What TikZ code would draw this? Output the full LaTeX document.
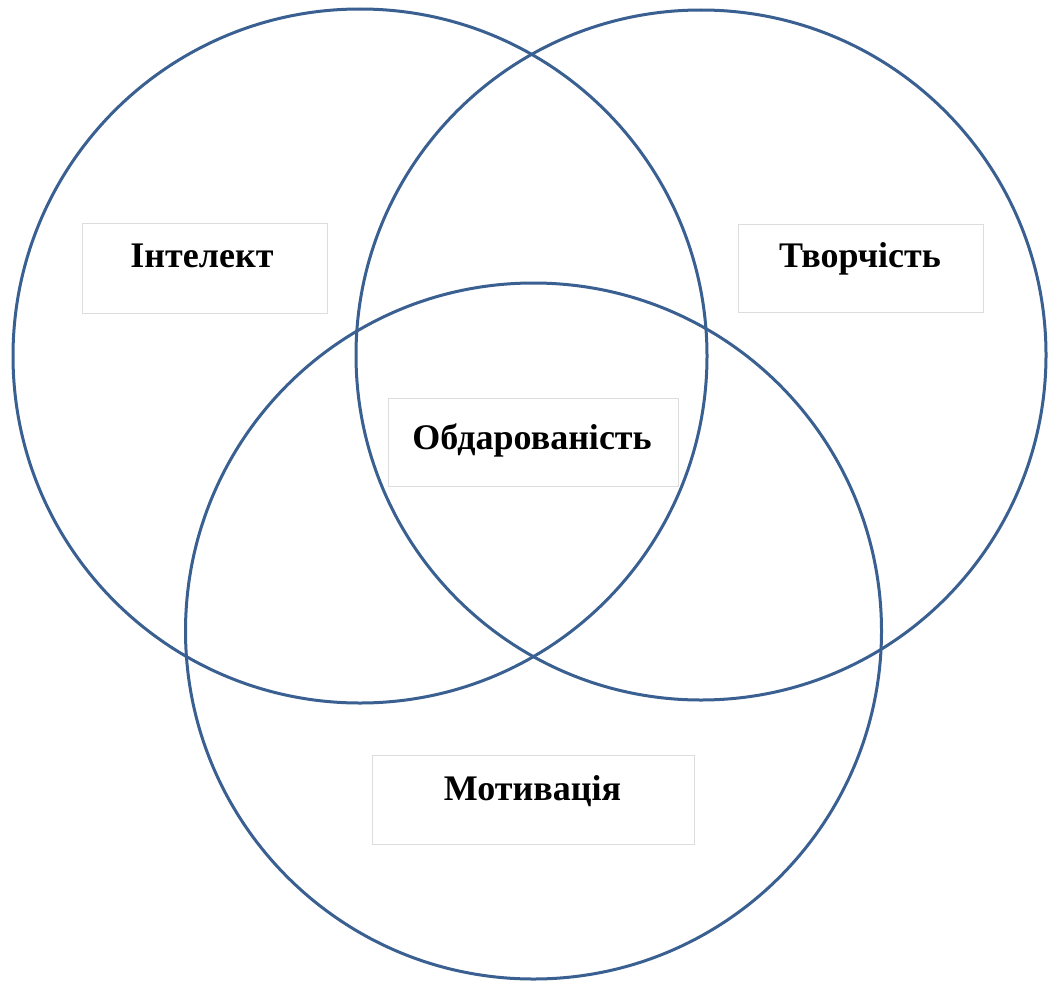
\documentclass[tikz,border=0pt]{standalone}
\usepackage{fontspec}
\setmainfont{Liberation Serif}
\definecolor{ringblue}{HTML}{3A5F91}
\definecolor{boxline}{HTML}{DDDDDD}
\begin{document}
\begin{tikzpicture}[x=1pt,y=-1pt,
  ring/.style={circle, draw=ringblue, line width=3pt, inner sep=0pt, minimum size=#1},
  labelbox/.style={rectangle, draw=boxline, line width=1pt, fill=white, inner sep=0pt},
  labeltext/.style={anchor=base, font=\fontsize{36}{40}\selectfont\bfseries, inner sep=0pt}]
\useasboundingbox (0,0) rectangle (1048,982);
\fill[white] (0,0) rectangle (1048,982);
% circles
\node[ring=694pt] (intellect) at (360,356) {};
\node[ring=690pt] (creativity) at (701,355) {};
\node[ring=696pt] (motivation) at (533.5,631) {};
% boxes
\node[labelbox, minimum width=245pt, minimum height=90pt] (bI) at (204.5,268) {};
\node[labelbox, minimum width=245pt, minimum height=88pt] (bT) at (860.5,268) {};
\node[labelbox, minimum width=290pt, minimum height=88pt] (bO) at (533,442) {};
\node[labelbox, minimum width=322pt, minimum height=89pt] (bM) at (533,799.5) {};
% texts
\node[labeltext] (tI) at (202,267) {Інтелект};
\node[labeltext] (tT) at (860,267) {Творчість};
\node[labeltext] (tO) at (532,449) {Обдарованість};
\node[labeltext] (tM) at (532.5,800) {Мотивація};
\end{tikzpicture}
\end{document}
